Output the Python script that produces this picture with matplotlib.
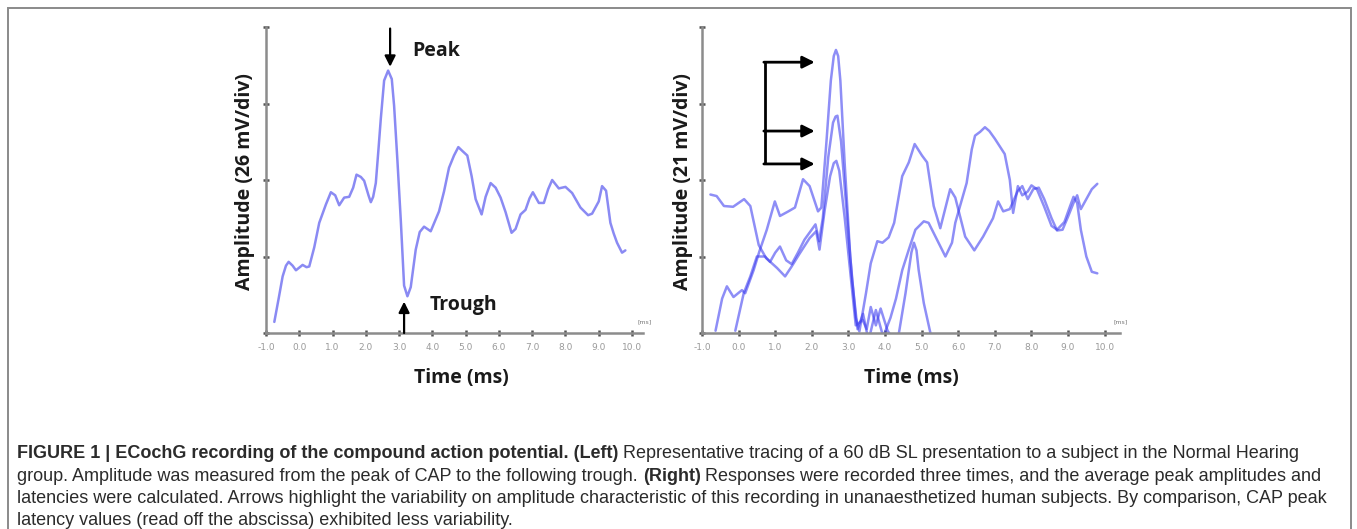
import matplotlib
matplotlib.use("Agg")
import matplotlib.pyplot as plt
from matplotlib import font_manager
from matplotlib.patches import Rectangle

# ---------------- data ----------------
tick_vals = [-1, 0, 1, 2, 3, 4, 5, 6, 7, 8, 9, 10]
tick_labels = ["-1.0", "0.0", "1.0", "2.0", "3.0", "4.0", "5.0", "6.0",
               "7.0", "8.0", "9.0", "10.0"]
amp_ticks = [0, 1, 2, 3, 4]

# left panel: single trace (time ms, amplitude in divisions)
left_t = [-0.75, -0.62, -0.5, -0.4, -0.32, -0.2, -0.1, 0.1, 0.22, 0.3, 0.45,
          0.6, 0.8, 0.95, 1.08, 1.2, 1.35, 1.5, 1.62, 1.72, 1.85, 1.95, 2.08,
          2.15, 2.22, 2.3, 2.38, 2.45, 2.55, 2.67, 2.78, 2.85, 2.95, 3.05,
          3.15, 3.25, 3.35, 3.5, 3.62, 3.75, 3.85, 3.95, 4.2, 4.35, 4.5, 4.65,
          4.78, 4.9, 5.05, 5.18, 5.3, 5.48, 5.6, 5.75, 5.9, 6.05, 6.2, 6.38,
          6.5, 6.65, 6.8, 6.92, 7.02, 7.2, 7.35, 7.48, 7.6, 7.8, 8.0, 8.2,
          8.45, 8.68, 8.8, 8.9, 9.0, 9.1, 9.22, 9.35, 9.45, 9.55, 9.7, 9.8]
left_amp = [0.145, 0.45, 0.74, 0.88, 0.93, 0.88, 0.82, 0.89, 0.86, 0.87, 1.12,
            1.44, 1.68, 1.84, 1.80, 1.67, 1.77, 1.78, 1.90, 2.07, 2.04, 1.99,
            1.80, 1.71, 1.78, 1.96, 2.40, 2.80, 3.30, 3.43, 3.32, 2.97, 2.25,
            1.48, 0.62, 0.48, 0.60, 1.09, 1.32, 1.39, 1.36, 1.33, 1.59, 1.85,
            2.16, 2.32, 2.43, 2.38, 2.32, 2.05, 1.75, 1.55, 1.78, 1.96, 1.90,
            1.77, 1.58, 1.31, 1.36, 1.55, 1.61, 1.76, 1.84, 1.70, 1.70, 1.88,
            2.0, 1.89, 1.91, 1.83, 1.64, 1.54, 1.56, 1.64, 1.72, 1.92, 1.86,
            1.44, 1.30, 1.18, 1.05, 1.08]

# right panel: three repeated traces
r1_t = [-0.77, -0.6, -0.4, -0.15, 0.15, 0.32, 0.55, 0.75, 1.05, 1.27, 1.45,
        1.67, 1.94, 2.12, 2.21, 2.35, 2.5, 2.6, 2.67, 2.75, 2.9, 3.05, 3.2,
        3.39, 3.5, 3.61, 3.75, 3.88, 4.07, 4.25, 4.38, 4.56, 4.72, 4.79, 4.86,
        4.92, 5.06, 5.24, 5.4]
r1_amp = [1.81, 1.79, 1.66, 1.65, 1.75, 1.66, 1.15, 0.98, 0.85, 0.74, 0.87,
          1.04, 1.24, 1.33, 1.09, 1.6, 2.05, 2.22, 2.25, 2.12, 1.5, 0.8, 0.1,
          0.17, 0.05, 0.34, 0.1, 0.32, 0.03, -0.1, 0.0, 0.52, 1.05, 1.18,
          1.08, 0.82, 0.39, 0.0, -0.3]

r2_t = [-0.63, -0.45, -0.32, -0.14, 0.09, 0.18, 0.41, 0.57, 0.77, 0.99, 1.13,
        1.36, 1.54, 1.76, 1.94, 2.17, 2.26, 2.4, 2.52, 2.6, 2.66, 2.72, 2.78,
        2.9, 3.05, 3.2, 3.3, 3.48, 3.61, 3.79, 3.93, 4.1, 4.25, 4.47, 4.65,
        4.81, 5.01, 5.15, 5.33, 5.51, 5.78, 5.92, 6.19, 6.44, 6.68, 6.95,
        7.09, 7.23, 7.41, 7.62, 7.75, 7.9, 8.05, 8.2, 8.35, 8.55, 8.7, 8.85,
        9.0, 9.15, 9.25, 9.35, 9.5, 9.65, 9.8]
r2_amp = [0.03, 0.45, 0.61, 0.47, 0.56, 0.52, 0.82, 1.07, 1.35, 1.72, 1.53,
          1.59, 1.64, 2.01, 1.92, 1.59, 1.64, 2.5, 3.3, 3.62, 3.70, 3.62, 3.3,
          2.2, 1.0, 0.2, 0.02, 0.52, 0.91, 1.2, 1.18, 1.25, 1.44, 2.05, 2.23,
          2.47, 2.32, 2.23, 1.66, 1.37, 1.88, 1.77, 1.26, 1.08, 1.26, 1.50,
          1.72, 1.59, 1.62, 1.85, 1.92, 1.75, 1.88, 1.90, 1.75, 1.50, 1.34,
          1.35, 1.52, 1.70, 1.80, 1.62, 1.75, 1.88, 1.95]

r3_t = [-0.09, 0.14, 0.32, 0.5, 0.72, 0.86, 1.0, 1.13, 1.3, 1.45, 1.62, 1.8,
        1.95, 2.1, 2.2, 2.3, 2.45, 2.58, 2.65, 2.7, 2.8, 2.95, 3.1, 3.25, 3.4,
        3.55, 3.75, 3.95, 4.15, 4.3, 4.47, 4.65, 4.83, 5.06, 5.19, 5.42, 5.65,
        5.83, 5.92, 6.05, 6.23, 6.37, 6.46, 6.6, 6.73, 6.85, 7.0, 7.27, 7.41,
        7.5, 7.63, 7.75, 7.9, 8.0, 8.15, 8.35, 8.55, 8.7, 8.9, 9.05, 9.15,
        9.25, 9.35, 9.5, 9.65, 9.8]
r3_amp = [0.03, 0.52, 0.74, 1.0, 1.0, 0.93, 1.05, 1.13, 0.95, 0.9, 1.05, 1.22,
          1.32, 1.42, 1.2, 1.5, 2.3, 2.75, 2.83, 2.84, 2.5, 1.6, 0.7, 0.05,
          0.25, -0.1, 0.3, -0.05, 0.2, 0.45, 0.82, 1.09, 1.35, 1.46, 1.44,
          1.22, 1.0, 1.18, 1.44, 1.66, 1.96, 2.4, 2.58, 2.63, 2.69, 2.64, 2.54,
          2.34, 2.0, 1.57, 1.92, 1.80, 1.85, 1.93, 1.88, 1.65, 1.40, 1.35,
          1.45, 1.65, 1.78, 1.70, 1.35, 1.0, 0.8, 0.78]

# annotation anchors (data coords)
peak_arrow = (2.73, 3.98, 3.48)      # x, y_start, y_tip
trough_arrow = (3.15, 0.0, 0.41)
bracket_x = (0.72, 2.08)
bracket_levels = [3.54, 2.64, 2.21]

caption_lines = [
    [("FIGURE 1 | ECochG recording of the compound action potential. (Left)", True),
     ("Representative tracing of a 60 dB SL presentation to a subject in the Normal Hearing", False)],
    [("group. Amplitude was measured from the peak of CAP to the following trough.", False),
     ("(Right)", True),
     ("Responses were recorded three times, and the average peak amplitudes and", False)],
    [("latencies were calculated. Arrows highlight the variability on amplitude characteristic of this recording in unanaesthetized human subjects. By comparison, CAP peak", False)],
    [("latency values (read off the abscissa) exhibited less variability.", False)],
]
caption_ends = [1318, 1333, 1333]

# ---------------- figure ----------------
W, H = 1357, 529
fig = plt.figure(figsize=(W / 100, H / 100), dpi=100)
fig.patch.set_facecolor("white")


def px_box(x0, y0, x1, y1):
    return [x0 / W, 1 - y1 / H, (x1 - x0) / W, (y1 - y0) / H]


fig.add_artist(Rectangle((8 / W, -0.05), (1351 - 8) / W, 1 - 8 / H + 0.05,
                         transform=fig.transFigure, fill=False,
                         edgecolor="#8a8a8a", linewidth=1.4))

axL = fig.add_axes(px_box(266, 27, 643, 333))
axR = fig.add_axes(px_box(702, 27, 1120, 333))

LBL = ["Open Sans", "DejaVu Sans"]


def style(ax, xmax):
    ax.set_xlim(-1.0, xmax)
    ax.set_ylim(0, 4)
    for s in ["top", "right"]:
        ax.spines[s].set_visible(False)
    for s in ["left", "bottom"]:
        ax.spines[s].set_color("#8c8c8c")
        ax.spines[s].set_linewidth(1.8)
    ax.set_xticks(tick_vals)
    ax.set_xticklabels(tick_labels, fontsize=6.5, color="#9a9a9a")
    ax.set_yticks(amp_ticks)
    ax.set_yticklabels([])
    ax.tick_params(direction="inout", length=4, width=1.8, color="#555555", pad=5)
    ax.text(0.985, 0.036, "[ms]", transform=ax.transAxes, fontsize=4.5,
            color="#777777", ha="left", va="center", clip_on=False)


style(axL, 10.33)
style(axR, 10.42)

axL.plot(left_t, left_amp, color="#8a8af3", lw=1.8, solid_joinstyle="round",
         solid_capstyle="round")
for t, a in [(r1_t, r1_amp), (r2_t, r2_amp), (r3_t, r3_amp)]:
    axR.plot(t, a, color="#3c3cf0", alpha=0.58, lw=1.8, solid_joinstyle="round",
             solid_capstyle="round")

arrow_kw = dict(arrowstyle="-|>", mutation_scale=16, lw=1.6, color="black",
                shrinkA=0, shrinkB=0)
axL.annotate("", xy=(peak_arrow[0], peak_arrow[2]),
             xytext=(peak_arrow[0], peak_arrow[1]), arrowprops=arrow_kw)
axL.annotate("", xy=(trough_arrow[0], trough_arrow[2]),
             xytext=(trough_arrow[0], trough_arrow[1]), arrowprops=arrow_kw)
axL.text(3.40, 3.68, "Peak", family=LBL, weight="bold", fontsize=14,
         ha="left", va="center", color="#1a1a1a")
axL.text(3.91, 0.37, "Trough", family=LBL, weight="bold", fontsize=14,
         ha="left", va="center", color="#1a1a1a")

axR.plot([bracket_x[0], bracket_x[0]], [bracket_levels[0], bracket_levels[-1]],
         color="black", lw=2.0, solid_capstyle="butt")
for lv in bracket_levels:
    axR.annotate("", xy=(bracket_x[1], lv), xytext=(bracket_x[0] - 0.03, lv),
                 arrowprops=dict(arrowstyle="-|>", mutation_scale=18, lw=2.0,
                                 color="black", shrinkA=0, shrinkB=0))

fig.text(245 / W, 1 - 182 / H, "Amplitude (26 mV/div)", rotation=90,
         family=LBL, weight="bold", fontsize=14, ha="center", va="center",
         color="#1a1a1a")
fig.text(683 / W, 1 - 182 / H, "Amplitude (21 mV/div)", rotation=90,
         family=LBL, weight="bold", fontsize=14, ha="center", va="center",
         color="#1a1a1a")
fig.text(461 / W, 1 - 378 / H, "Time (ms)", family=LBL, weight="bold",
         fontsize=14, ha="center", va="center", color="#1a1a1a")
fig.text(911 / W, 1 - 378 / H, "Time (ms)", family=LBL, weight="bold",
         fontsize=14, ha="center", va="center", color="#1a1a1a")

# ---------------- caption ----------------
names = {f.name for f in font_manager.fontManager.ttflist}
cap_family = "Liberation Sans Narrow" if "Liberation Sans Narrow" in names else "Liberation Sans"
fig.canvas.draw()
renderer = fig.canvas.get_renderer()


def text_w(s, size, bold):
    t = fig.text(0, 0, s, fontsize=size, family=cap_family,
                 weight="bold" if bold else "normal")
    w = t.get_window_extent(renderer).width
    t.remove()
    return w


def line_w(runs, size):
    total = 0
    for i, (s, b) in enumerate(runs):
        total += text_w(s, size, b)
        if i < len(runs) - 1:
            total += text_w("x x", size, b) - text_w("xx", size, b)
    return total


cap_x0 = 17
base = 10.0
cap_size = min(base * (end - cap_x0) / line_w(runs, base)
               for runs, end in zip(caption_lines, caption_ends))
baselines = [458, 481, 503, 525]
cap_color = "#2b2b2b"
for runs, yb in zip(caption_lines, baselines):
    x = cap_x0
    for i, (s, b) in enumerate(runs):
        fig.text(x / W, 1 - yb / H, s, fontsize=cap_size, family=cap_family,
                 weight="bold" if b else "normal", color=cap_color,
                 ha="left", va="baseline")
        x += text_w(s, cap_size, b)
        if i < len(runs) - 1:
            x += text_w("x x", cap_size, b) - text_w("xx", cap_size, b)

fig.savefig("out.png", dpi=100, facecolor="white")
